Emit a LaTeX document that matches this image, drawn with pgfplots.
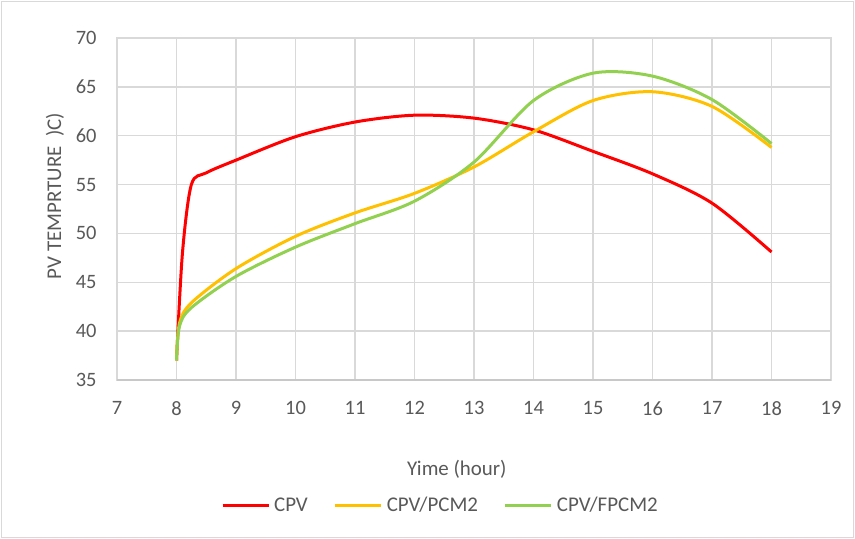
\documentclass[border=0pt]{standalone}
\usepackage{pgfplots}
\pgfplotsset{compat=1.18}
\usepackage{fontspec}
\setmainfont{Carlito}
\definecolor{txt}{HTML}{595959}
\definecolor{grd}{HTML}{D9D9D9}
\definecolor{axl}{HTML}{C8C8C8}
\definecolor{cred}{HTML}{FF0000}
\definecolor{cyel}{HTML}{FFC000}
\definecolor{cgrn}{HTML}{92D050}
\begin{document}
\begin{tikzpicture}
\draw[grd,line width=1bp] (-115bp,-157bp) rectangle (736bp,378bp);
\useasboundingbox (-117bp,-159bp) rectangle (738bp,380bp);
\begin{axis}[
  at={(0bp,0bp)}, anchor=south west,
  scale only axis, width=714bp, height=342bp,
  xmin=7, xmax=19, ymin=35, ymax=70,
  xtick={7,...,19}, ytick={35,40,...,70},
  grid=major, major grid style={grd,line width=1.5bp},
  axis line style={grd,line width=1.5bp},
  major tick length=0pt,
  tick label style={font=\fontsize{20.5}{22}\selectfont, text=txt},
  /pgf/number format/assume math mode=true,
  xticklabel style={yshift=-18bp},
  yticklabel style={xshift=-17bp},
  xlabel={Yime (hour)},
  label style={font=\fontsize{21}{23}\selectfont, text=txt},
  xlabel style={at={(axis description cs:0.476,-0.26)},anchor=center},
  legend columns=3,
  legend style={at={(axis description cs:0.453,-0.3655)},anchor=center,draw=none,
    font=\fontsize{21}{23}\selectfont, text=txt,
    /tikz/every even column/.append style={column sep=24bp},
    /tikz/every odd column/.append style={column sep=2bp}},
  legend image code/.code={\draw[#1] (0bp,0bp) -- (46bp,0bp);},
  every axis plot/.append style={line width=3bp, smooth, tension=0.5},
  clip=false,
]
\draw[axl,line width=1.5bp] (axis cs:7,35) -- (axis cs:19,35);
\node[rotate=90, anchor=center, font=\fontsize{21}{23}\selectfont, text=txt] at (rel axis cs:-0.087,0.538) {PV TEMPRTURE\ \ )C)};
\addplot[cred] coordinates {(8,37) (8.1,48) (8.25,55) (8.5,56.2) (9,57.5) (10,59.9) (11,61.4) (12,62.1) (13,61.8) (14,60.6) (15,58.4) (16,56.1) (17,53.1) (18,48.1)};
\addlegendentry{CPV}
\addplot[cyel] coordinates {(8,37) (8.05,40.8) (8.25,42.9) (9,46.4) (10,49.7) (11,52.1) (12,54.1) (13,56.8) (14,60.4) (15,63.6) (16,64.5) (17,63.0) (18,58.8)};
\addlegendentry{CPV/PCM2}
\addplot[cgrn] coordinates {(8,37) (8.05,40.5) (8.25,42.4) (9,45.6) (10,48.6) (11,51.0) (12,53.3) (13,57.3) (14,63.6) (15,66.4) (16,66.1) (17,63.7) (18,59.2)};
\addlegendentry{CPV/FPCM2}
\end{axis}
\end{tikzpicture}
\end{document}
